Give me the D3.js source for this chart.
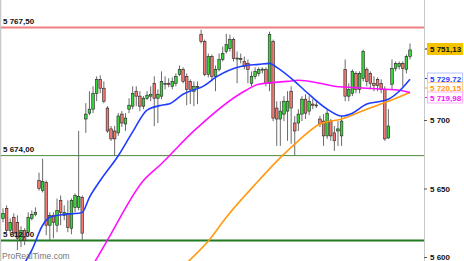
<!DOCTYPE html>
<html>
<head>
<meta charset="utf-8">
<script src="https://cdn.jsdelivr.net/npm/d3@7"></script>
<style>
  body { margin: 0; background: #fff; }
  svg { display: block; }
</style>
</head>
<body>
<div id="chart"></div>
<script>

// candles
var opens  = [5628.2,5635.5,5619.5,5629.0,5625.3,5612.3,5619.5,5618.1,5628.2,5631.1,
              5655.8,5648.5,5654.3,5623.2,5630.4,5623.2,5641.3,5630.4,5631.9,5621.0,
              5636.2,5636.2,5643.5,5700.7,5705.0,5707.9,5719.5,5729.7,5723.2,5708.7,
              5693.5,5692.0,5690.6,5704.3,5697.1,5707.9,5710.1,5721.0,5717.4,5710.1,
              5715.9,5717.4,5726.8,5715.9,5717.4,5726.8,5726.8,5724.6,5726.8,5733.3,
              5736.9,5731.9,5728.2,5721.0,5724.6,5762.3,5757.2,5733.3,5746.3,5731.9,
              5736.9,5744.2,5750.0,5752.1,5758.7,5744.9,5744.9,5742.7,5741.3,5726.8,
              5731.9,5734.0,5736.9,5736.9,5726.8,5757.2,5708.7,5700.7,5704.3,5706.5,
              5721.0,5697.8,5697.8,5704.3,5715.2,5706.5,5711.6,5710.8,5700.7,5699.2,
              5688.4,5699.2,5690.6,5692.0,5688.4,5736.9,5717.4,5719.5,5734.0,5722.4,
              5730.4,5736.9,5734.0,5726.8,5729.7,5726.8,5722.4,5686.9,5726.1,5737.7,
              5739.1,5741.3,5736.9,5746.3];
var highs  = [5635.5,5637.7,5628.2,5631.9,5630.4,5622.4,5621.0,5632.6,5634.0,5636.2,
              5661.6,5671.7,5655.8,5632.6,5632.6,5642.7,5644.9,5637.7,5641.3,5642.7,
              5646.4,5692.0,5644.9,5712.3,5721.0,5724.6,5731.9,5732.6,5728.2,5710.1,
              5695.6,5695.6,5705.0,5706.5,5705.0,5715.9,5724.6,5724.6,5721.0,5717.4,
              5721.0,5724.6,5731.9,5722.4,5735.5,5731.9,5730.4,5731.1,5734.0,5739.8,
              5738.4,5734.0,5729.7,5728.2,5728.2,5765.9,5758.7,5748.5,5747.8,5739.8,
              5748.5,5753.6,5763.0,5762.3,5760.1,5750.0,5748.5,5746.3,5744.2,5735.5,
              5738.4,5738.4,5738.4,5738.4,5764.5,5758.7,5713.7,5713.7,5717.4,5721.0,
              5724.6,5702.9,5707.9,5717.4,5718.8,5717.4,5715.2,5713.7,5702.9,5704.3,
              5707.9,5700.7,5695.6,5699.2,5702.9,5744.2,5726.8,5736.9,5735.5,5735.5,
              5751.4,5738.4,5735.5,5731.9,5731.1,5729.7,5724.6,5707.9,5744.2,5742.7,
              5742.7,5742.7,5747.8,5755.8];
var lows   = [5625.3,5618.1,5617.4,5615.2,5605.0,5607.2,5608.7,5615.2,5626.8,5629.7,
              5648.5,5647.1,5615.9,5612.3,5613.7,5618.1,5623.2,5626.8,5618.1,5616.6,
              5632.6,5634.0,5612.3,5690.6,5703.6,5705.0,5713.7,5719.5,5712.3,5690.6,
              5684.8,5673.9,5688.4,5694.9,5692.0,5705.0,5707.9,5710.1,5706.5,5707.9,
              5714.5,5713.7,5695.6,5697.8,5715.2,5722.4,5723.9,5722.4,5724.6,5731.9,
              5726.8,5710.8,5711.6,5710.1,5711.6,5755.8,5731.9,5731.1,5728.2,5721.0,
              5735.5,5742.7,5748.5,5750.0,5742.7,5726.8,5741.3,5736.9,5726.8,5724.6,
              5729.7,5731.9,5734.0,5724.6,5721.0,5699.2,5681.1,5681.1,5699.2,5684.8,
              5682.6,5673.9,5692.0,5699.2,5700.7,5703.6,5707.9,5708.7,5694.9,5681.1,
              5686.2,5684.8,5677.5,5681.1,5681.1,5713.7,5713.7,5717.4,5719.5,5719.5,
              5728.2,5724.6,5722.4,5721.0,5721.0,5719.5,5684.8,5686.2,5722.4,5735.5,
              5736.9,5724.6,5734.0,5744.2];
var closes = [5631.9,5619.5,5625.3,5617.4,5613.7,5619.5,5612.3,5629.0,5631.1,5632.6,
              5650.0,5655.0,5623.2,5630.4,5625.3,5634.0,5632.6,5632.6,5621.7,5641.3,
              5644.9,5644.2,5617.4,5704.3,5707.9,5719.5,5729.7,5723.2,5713.7,5692.0,
              5686.2,5686.2,5702.9,5697.8,5701.4,5710.8,5719.5,5717.4,5710.1,5715.9,
              5718.1,5718.8,5715.9,5718.8,5728.2,5726.6,5726.1,5728.2,5731.9,5736.9,
              5728.2,5722.4,5722.4,5724.6,5724.3,5757.2,5733.3,5746.3,5731.9,5736.9,
              5744.2,5748.5,5755.0,5758.7,5744.9,5745.2,5744.2,5739.1,5736.9,5731.9,
              5735.5,5736.9,5737.1,5726.8,5762.3,5701.4,5700.7,5706.5,5713.7,5713.7,
              5708.7,5692.0,5704.3,5715.2,5705.0,5713.7,5710.8,5711.0,5697.1,5688.4,
              5705.0,5688.4,5684.8,5693.5,5699.2,5717.4,5722.4,5735.5,5722.4,5734.0,
              5750.0,5728.2,5726.8,5725.3,5725.3,5722.4,5686.2,5695.6,5737.7,5741.3,
              5741.3,5737.7,5746.3,5751.13];

// moving averages, [candle index, value]
var maBlue = [[6,5595.6],[8,5605.0],[11,5623.2],[13,5629.0],[17,5631.1],[21,5631.9],[22,5632.6],
              [24,5643.5],[27,5655.8],[32,5673.9],[36,5691.3],[40,5707.2],[44,5710.8],[46,5711.6],
              [50,5718.8],[56,5725.3],[59,5731.1],[66,5739.1],[71,5740.6],[74,5741.3],[76,5738.4],
              [81,5728.2],[84,5721.0],[90,5707.9],[94,5702.9],[97,5705.0],[101,5711.6],[105,5713.7],
              [107,5715.2],[110,5721.0],[113,5729.72]];
var maMagenta = [[25,5594.2],[29,5612.3],[39,5655.8],[44,5668.1],[53,5692.0],[67,5721.0],
                 [71,5726.1],[79,5728.2],[82,5729.0],[88,5726.8],[92,5724.6],[101,5723.2],
                 [106,5722.4],[110,5721.7],[113,5719.98]];
var maOrange = [[51,5595.6],[57,5611.6],[62,5629.0],[71,5655.8],[77,5672.5],[82,5684.8],
                [88,5697.1],[94,5700.7],[101,5707.9],[107,5713.7],[113,5720.15]];

var levels = [5767.50, 5674.00, 5612.00];
var levelColors = ["#f08080", "#4a8a3a", "#1f7a1f"];
var levelWidths = [2, 1, 2];
var axisTicks = [5600, 5650, 5700];

var width = 464, height = 261, plotRight = 424;

var fr = d3.formatLocale({decimal: ",", thousands: " ", grouping: [3], currency: ["", ""]});
var f2 = fr.format(",.2f"), f0 = fr.format(",.0f");

var svg = d3.select("#chart")
  .append("svg")
    .attr("width", width)
    .attr("height", height)
    .style("font-family", "'Liberation Sans', Arial, sans-serif");

var x = d3.scaleLinear()
  .domain([0, closes.length - 1])
  .range([3, 410]);

var y = d3.scaleLinear()
  .domain([5600, 5700])
  .range([257, 120]);

svg.append("defs").append("clipPath").attr("id", "plot")
  .append("rect").attr("x", 1).attr("y", 0).attr("width", plotRight - 1).attr("height", height);

// borders
svg.append("line").attr("x1", 0.5).attr("x2", 0.5).attr("y1", 0).attr("y2", height)
  .style("stroke", "#c8c8c8").style("stroke-width", 1.5);
svg.append("line").attr("x1", plotRight + 0.5).attr("x2", plotRight + 0.5).attr("y1", 0).attr("y2", height)
  .style("stroke", "#c8c8c8");

var plot = svg.append("g").attr("clip-path", "url(#plot)");

levels.forEach(function(v, i) {
  plot.append("line")
    .attr("x1", 1).attr("x2", plotRight)
    .attr("y1", y(v)).attr("y2", y(v))
    .style("stroke", levelColors[i])
    .style("stroke-width", levelWidths[i]);
});

levels.forEach(function(v, i) {
  svg.append("text")
    .attr("x", 3).attr("y", y(v) - 4)
    .text(f2(v))
    .style("font-size", "8px").style("font-weight", "bold").style("fill", "#111");
});

// candles
var idx = d3.range(closes.length);
var bw = 2.6;
var cg = plot.append("g");
idx.forEach(function(i) {
  var up = closes[i] >= opens[i];
  cg.append("line")
    .attr("x1", x(i)).attr("x2", x(i))
    .attr("y1", y(highs[i])).attr("y2", y(lows[i]))
    .style("stroke", "#6a6a6a").style("stroke-width", 1);
  var top = y(Math.max(opens[i], closes[i])), bot = y(Math.min(opens[i], closes[i]));
  cg.append("rect")
    .attr("x", x(i) - bw / 2)
    .attr("y", top)
    .attr("width", bw)
    .attr("height", Math.max(bot - top, 1))
    .style("fill", up ? "#3ad43a" : "#f07a72")
    .style("stroke", "#222")
    .style("stroke-width", 0.6);
});

var line = d3.line()
  .x(function(d) { return x(d[0]); })
  .y(function(d) { return y(d[1]); })
  .curve(d3.curveMonotoneX);

[[maOrange, "#ff9a10"], [maMagenta, "#ff10ff"], [maBlue, "#1f3dff"]].forEach(function(s) {
  plot.append("path")
    .datum(s[0])
    .attr("d", line)
    .style("fill", "none")
    .style("stroke", s[1])
    .style("stroke-width", 1.6);
});

// right axis
var ax = svg.append("g")
  .attr("transform", "translate(" + plotRight + ",0)")
  .call(d3.axisRight(y).tickValues(axisTicks).tickSize(3).tickPadding(3).tickFormat(f0));
ax.select(".domain").remove();
ax.selectAll("line").style("stroke", "#555");
ax.selectAll("text").style("font-size", "8px").style("font-weight", "bold")
  .style("font-family", "'Liberation Sans', Arial, sans-serif").style("fill", "#111");

// last value tags
var tags = [
  {v: closes[closes.length - 1], pos: 49, fill: "#f5c400", stroke: "#f5c400", color: "#111"},
  {v: maBlue[maBlue.length - 1][1], pos: 78.5, fill: "#fff", stroke: "#b8c4ff", color: "#1f3dff"},
  {v: maOrange[maOrange.length - 1][1], pos: 88, fill: "#fff", stroke: "#ffd090", color: "#ff9a10"},
  {v: maMagenta[maMagenta.length - 1][1], pos: 97.5, fill: "#fff", stroke: "#ffb0ff", color: "#ff10ff"}
];
tags.forEach(function(t) {
  svg.append("line")
    .attr("x1", plotRight + 1).attr("x2", plotRight + 4)
    .attr("y1", t.pos).attr("y2", t.pos)
    .style("stroke", t.color).style("stroke-width", 1);
  svg.append("rect")
    .attr("x", 427.5).attr("y", t.pos - 5.5)
    .attr("width", 35).attr("height", 11)
    .style("fill", t.fill).style("stroke", t.stroke);
  svg.append("text")
    .attr("x", 430).attr("y", t.pos + 3)
    .text(f2(t.v))
    .style("font-size", "8px").style("font-weight", "bold").style("fill", t.color);
});

svg.append("text")
  .attr("x", 2).attr("y", 259)
  .text("ProRealTime.com")
  .style("font-size", "8.5px").style("fill", "#777");

</script>
</body>
</html>
